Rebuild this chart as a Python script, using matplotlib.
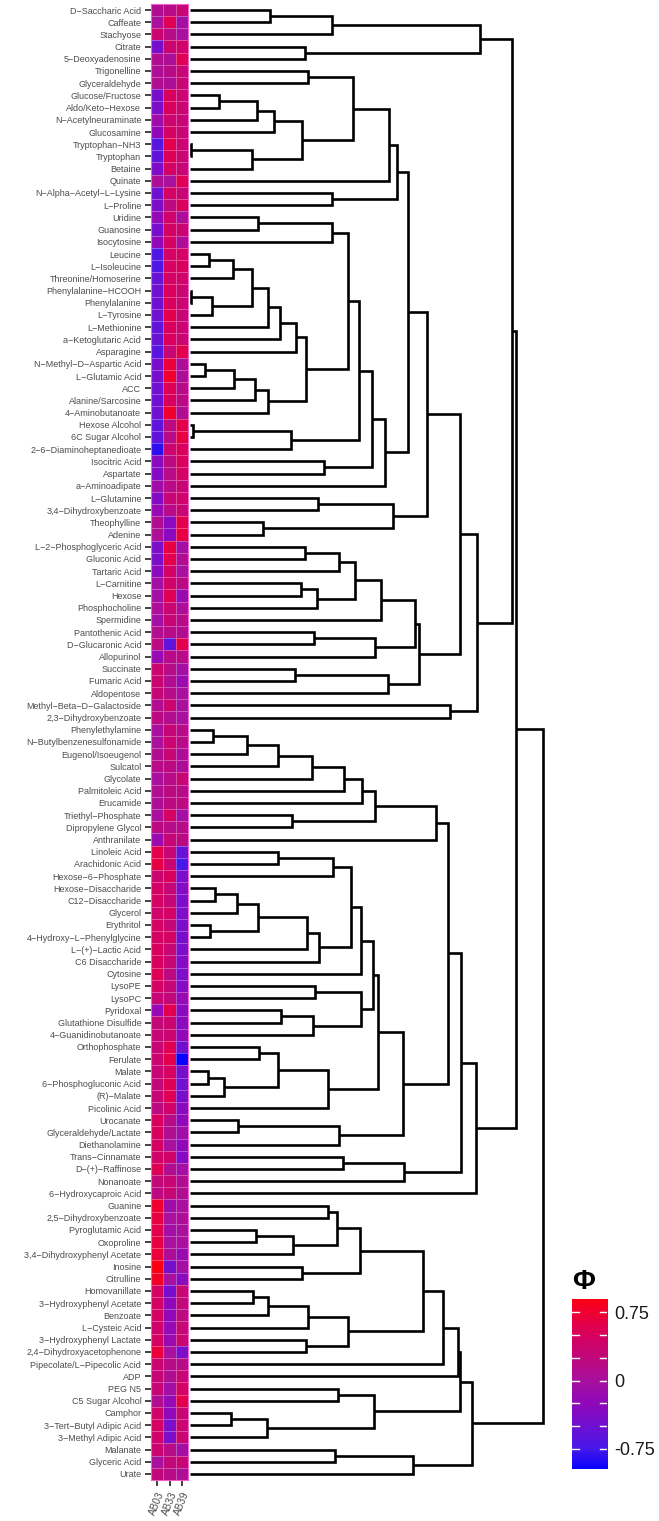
import numpy as np
import matplotlib
matplotlib.use("Agg")
import matplotlib.pyplot as plt
from matplotlib.colors import LinearSegmentedColormap, Normalize

plt.rcParams['font.family'] = ['Liberation Sans', 'DejaVu Sans']

metabolites = [
    "D-Saccharic Acid", "Caffeate", "Stachyose", "Citrate", "5-Deoxyadenosine",
    "Trigonelline", "Glyceraldehyde", "Glucose/Fructose", "Aldo/Keto-Hexose",
    "N-Acetylneuraminate", "Glucosamine", "Tryptophan-NH3", "Tryptophan", "Betaine",
    "Quinate", "N-Alpha-Acetyl-L-Lysine", "L-Proline", "Uridine", "Guanosine",
    "Isocytosine", "Leucine", "L-Isoleucine", "Threonine/Homoserine",
    "Phenylalanine-HCOOH", "Phenylalanine", "L-Tyrosine", "L-Methionine",
    "a-Ketoglutaric Acid", "Asparagine", "N-Methyl-D-Aspartic Acid", "L-Glutamic Acid",
    "ACC", "Alanine/Sarcosine", "4-Aminobutanoate", "Hexose Alcohol", "6C Sugar Alcohol",
    "2-6-Diaminoheptanedioate", "Isocitric Acid", "Aspartate", "a-Aminoadipate",
    "L-Glutamine", "3,4-Dihydroxybenzoate", "Theophylline", "Adenine",
    "L-2-Phosphoglyceric Acid", "Gluconic Acid", "Tartaric Acid", "L-Carnitine", "Hexose",
    "Phosphocholine", "Spermidine", "Pantothenic Acid", "D-Glucaronic Acid", "Allopurinol",
    "Succinate", "Fumaric Acid", "Aldopentose", "Methyl-Beta-D-Galactoside",
    "2,3-Dihydroxybenzoate", "Phenylethylamine", "N-Butylbenzenesulfonamide",
    "Eugenol/Isoeugenol", "Sulcatol", "Glycolate", "Palmitoleic Acid", "Erucamide",
    "Triethyl-Phosphate", "Dipropylene Glycol", "Anthranilate", "Linoleic Acid",
    "Arachidonic Acid", "Hexose-6-Phosphate", "Hexose-Disaccharide", "C12-Disaccharide",
    "Glycerol", "Erythritol", "4-Hydroxy-L-Phenylglycine", "L-(+)-Lactic Acid",
    "C6 Disaccharide", "Cytosine", "LysoPE", "LysoPC", "Pyridoxal", "Glutathione Disulfide",
    "4-Guanidinobutanoate", "Orthophosphate", "Ferulate", "Malate",
    "6-Phosphogluconic Acid", "(R)-Malate", "Picolinic Acid", "Urocanate",
    "Glyceraldehyde/Lactate", "Diethanolamine", "Trans-Cinnamate", "D-(+)-Raffinose",
    "Nonanoate", "6-Hydroxycaproic Acid", "Guanine", "2,5-Dihydroxybenzoate",
    "Pyroglutamic Acid", "Oxoproline", "3,4-Dihydroxyphenyl Acetate", "Inosine",
    "Citrulline", "Homovanillate", "3-Hydroxyphenyl Acetate", "Benzoate", "L-Cysteic Acid",
    "3-Hydroxyphenyl Lactate", "2,4-Dihydroxyacetophenone", "Pipecolate/L-Pipecolic Acid",
    "ADP", "PEG N5", "C5 Sugar Alcohol", "Camphor", "3-Tert-Butyl Adipic Acid",
    "3-Methyl Adipic Acid", "Malanate", "Glyceric Acid", "Urate",
]

samples = ["AB03", "AB33", "AB39"]

ab03 = [0.1, 0.0, 0.35, -0.45, 0.1, 0.05, 0.1, -0.45, -0.4, -0.1,
        -0.25, -0.65, -0.6, -0.4, 0.05, -0.5, -0.4, -0.2, -0.45, -0.25,
        -0.7, -0.7, -0.55, -0.5, -0.5, -0.5, -0.6, -0.55, -0.65, -0.45,
        -0.45, -0.5, -0.5, -0.5, -0.6, -0.6, -0.85, -0.3, -0.35, -0.1,
        -0.35, -0.2, 0.1, 0.05, -0.4, -0.4, -0.3, -0.05, -0.05, 0.05,
        -0.05, 0.1, 0.2, -0.2, 0.35, 0.35, 0.3, 0.1, 0.2, 0.0,
        0.0, 0.1, 0.15, 0.0, 0.1, 0.05, 0.0, 0.2, -0.15, 0.6,
        0.65, 0.35, 0.45, 0.45, 0.4, 0.45, 0.45, 0.5, 0.5, 0.55,
        0.45, 0.3, -0.2, 0.25, 0.3, 0.3, 0.35, 0.3, 0.25, 0.3,
        0.2, 0.5, 0.5, 0.45, 0.4, 0.55, 0.25, 0.2, 0.75, 0.65,
        0.6, 0.65, 0.7, 0.9, 0.8, 0.45, 0.45, 0.45, 0.4, 0.45,
        0.7, 0.35, 0.3, 0.3, 0.1, 0.4, 0.45, 0.4, 0.35, 0.0,
        0.25]
ab33 = [0.15, 0.55, 0.15, 0.35, 0.05, 0.15, 0.05, 0.5, 0.5, 0.35,
        0.45, 0.6, 0.55, 0.45, 0.0, 0.45, 0.2, 0.4, 0.45, 0.45,
        0.45, 0.45, 0.45, 0.5, 0.5, 0.6, 0.5, 0.5, 0.3, 0.7,
        0.75, 0.55, 0.5, 0.75, 0.2, 0.15, 0.35, 0.2, 0.15, 0.15,
        0.3, 0.15, -0.3, -0.3, 0.65, 0.6, 0.45, 0.4, 0.55, 0.35,
        0.3, 0.15, -0.6, 0.15, 0.15, 0.1, 0.15, 0.35, 0.1, 0.3,
        0.35, 0.3, 0.2, 0.15, 0.2, 0.2, 0.45, 0.15, 0.3, 0.3,
        0.35, 0.5, 0.3, 0.3, 0.45, 0.3, 0.45, 0.3, 0.3, 0.2,
        0.3, 0.25, 0.6, 0.35, 0.35, 0.55, 0.6, 0.45, 0.55, 0.55,
        0.4, 0.15, 0.1, 0.0, 0.4, 0.1, 0.3, 0.3, -0.1, 0.0,
        -0.05, 0.0, 0.05, -0.45, 0.0, -0.45, -0.25, -0.25, -0.2, -0.15,
        0.0, 0.15, 0.1, -0.05, -0.2, -0.25, -0.4, -0.4, 0.15, 0.25,
        0.15]
ab39 = [0.3, -0.05, 0.0, 0.4, 0.55, 0.3, 0.3, 0.35, 0.35, 0.3,
        0.3, 0.35, 0.35, 0.3, 0.55, 0.3, 0.5, 0.05, 0.35, 0.05,
        0.45, 0.5, 0.4, 0.35, 0.35, 0.3, 0.35, 0.35, 0.6, 0.05,
        0.05, 0.15, 0.2, 0.1, 0.6, 0.65, 0.5, 0.5, 0.45, 0.3,
        0.4, 0.3, 0.6, 0.65, -0.05, 0.1, 0.0, 0.2, -0.15, 0.05,
        0.15, 0.1, 0.6, 0.15, -0.05, -0.15, 0.0, 0.0, 0.0, 0.15,
        0.15, 0.05, 0.05, 0.3, 0.15, 0.2, -0.05, 0.15, 0.2, -0.55,
        -0.75, -0.4, -0.35, -0.4, -0.4, -0.4, -0.45, -0.4, -0.35, -0.4,
        -0.35, -0.2, -0.3, -0.3, -0.25, -0.5, -0.97, -0.45, -0.5, -0.45,
        -0.3, -0.25, -0.1, -0.25, -0.35, -0.05, 0.1, 0.1, 0.0, 0.05,
        0.0, 0.0, -0.15, -0.05, -0.3, 0.3, 0.25, 0.2, 0.3, 0.35,
        -0.4, 0.15, 0.3, 0.45, 0.6, 0.3, 0.35, 0.35, -0.05, 0.3,
        0.05]

# hierarchical clustering of the rows: (left, right, height)
# ints are leaf rows (1 = top row), "mK" is the K-th merge in this list
merges = [
    (1, 2, 0.80), ("m1", 3, 1.42), (4, 5, 1.15), ("m2", "m3", 2.90),
    (6, 7, 1.18), (8, 9, 0.29), ("m6", 10, 0.67), ("m7", 11, 0.84),
    (12, 13, 0.01), ("m9", 14, 0.62), ("m8", "m10", 1.12), ("m5", "m11", 1.63),
    ("m12", 15, 1.99), (16, 17, 1.42), ("m13", "m14", 2.07), (18, 19, 0.68),
    ("m16", 20, 1.42), (21, 22, 0.19), ("m18", 23, 0.43), (24, 25, 0.01),
    ("m20", 26, 0.22), ("m19", "m21", 0.62), ("m22", 27, 0.78), ("m23", 28, 0.90),
    ("m24", 29, 1.06), (30, 31, 0.15), ("m26", 32, 0.44), ("m27", 33, 0.65),
    ("m28", 34, 0.78), ("m25", "m29", 1.16), ("m17", "m30", 1.58), (35, 36, 0.03),
    ("m32", 37, 1.01), ("m31", "m33", 1.69), (38, 39, 1.34), ("m34", "m35", 1.82),
    ("m36", 40, 1.95), ("m15", "m37", 2.18), (41, 42, 1.28), (43, 44, 0.73),
    ("m39", "m40", 2.03), ("m38", "m41", 2.37), (45, 46, 1.15), ("m43", 47, 1.49),
    (48, 49, 1.11), ("m45", 50, 1.27), ("m44", "m46", 1.65), ("m47", 51, 1.91),
    (52, 53, 1.24), ("m49", 54, 1.85), ("m48", "m50", 2.25), (55, 56, 1.05),
    ("m52", 57, 1.98), ("m51", "m53", 2.29), ("m42", "m54", 2.70), (58, 59, 2.60),
    ("m55", "m56", 2.87), ("m4", "m57", 3.22), (60, 61, 0.23), ("m59", 62, 0.57),
    ("m60", 63, 0.88), ("m61", 64, 1.22), ("m62", 65, 1.54), ("m63", 66, 1.72),
    (67, 68, 1.02), ("m64", "m65", 1.85), ("m66", 69, 2.46), (70, 71, 0.88),
    ("m68", 72, 1.43), (73, 74, 0.25), ("m70", 75, 0.47), (76, 77, 0.20),
    ("m71", "m72", 0.68), ("m73", 78, 1.17), ("m74", 79, 1.29), ("m69", "m75", 1.61),
    ("m76", 80, 1.71), (81, 82, 1.25), (83, 84, 0.91), ("m79", 85, 1.23),
    ("m78", "m80", 1.71), ("m77", "m81", 1.83), (86, 87, 0.69), (88, 89, 0.18),
    ("m84", 90, 0.34), ("m83", "m85", 0.88), ("m86", 91, 1.38), ("m82", "m87", 1.88),
    (92, 93, 0.48), ("m89", 94, 1.49), ("m88", "m90", 2.13), ("m67", "m91", 2.58),
    (95, 96, 1.53), ("m93", 97, 2.14), ("m92", "m94", 2.71), ("m95", 98, 2.86),
    ("m58", "m96", 3.26), (99, 100, 1.38), (101, 102, 0.66), ("m99", 103, 1.03),
    ("m98", "m100", 1.47), (104, 105, 1.12), ("m101", "m102", 1.70), (106, 107, 0.63),
    ("m104", 108, 0.78), ("m105", 109, 1.18), (110, 111, 1.16), ("m106", "m107", 1.58),
    ("m103", "m108", 2.33), ("m109", 112, 2.53), ("m110", 113, 2.68), (114, 115, 1.48),
    (116, 117, 0.41), ("m113", 118, 0.77), ("m112", "m114", 1.84), ("m111", "m115", 2.70),
    (119, 120, 1.45), ("m117", 121, 2.23), ("m116", "m118", 2.82), ("m97", "m119", 3.53),
]

n = len(metabolites)
W, H = 659, 1521
fig = plt.figure(figsize=(W / 100, H / 100), dpi=100)

cmap = LinearSegmentedColormap.from_list("phi", [
    (0.0, "#0000FF"), (0.125, "#4818EA"), (0.25, "#7010D0"), (0.375, "#9008BA"),
    (0.5, "#A8109E"), (0.625, "#C0087A"), (0.75, "#D8005E"), (0.875, "#F00030"),
    (1.0, "#FF0000")])
norm = Normalize(vmin=-1, vmax=1)

top_px, row_px = 3.9, 12.2
bottom = 1 - (top_px + n * row_px) / H
height = n * row_px / H

# heatmap
ax_h = fig.add_axes([151 / W, bottom, 37 / W, height])
vals = np.column_stack([ab03, ab33, ab39])
ax_h.pcolormesh(np.arange(0.5, 4, 1), np.arange(0.5, n + 1, 1), vals, cmap=cmap, norm=norm,
                edgecolors=(1, 1, 1, 0.3), linewidth=0.5)
ax_h.set_xlim(0.5, 3.5)
ax_h.set_ylim(n + 0.5, 0.5)
ax_h.set_yticks(np.arange(1, n + 1))
ax_h.set_yticklabels([m.replace("-", "\u2212") for m in metabolites], fontsize=6.5, color="#4D4D4D")
ax_h.set_xticks([1, 2, 3])
ax_h.set_xticklabels(samples, rotation=68, ha="right", va="top", fontsize=7.2, color="#4D4D4D",
                     rotation_mode="anchor")
ax_h.tick_params(axis="both", length=4, width=1.3, color="#333333", pad=3)
for sp in ax_h.spines.values():
    sp.set_color("#F060C8")
    sp.set_linewidth(0.8)

# dendrogram
ax_d = fig.add_axes([190 / W, bottom, 370 / W, height])
node_y, node_h = {}, {}


def pos(key):
    if isinstance(key, int):
        return float(key), 0.0
    return node_y[key], node_h[key]


for k, (a, b, h) in enumerate(merges, start=1):
    ya, ha = pos(a)
    yb, hb = pos(b)
    ax_d.plot([ha, h, h, hb], [ya, ya, yb, yb], color="black", lw=1.9,
              solid_joinstyle="miter", solid_capstyle="butt", clip_on=False)
    node_y["m%d" % k] = (ya + yb) / 2
    node_h["m%d" % k] = h

ax_d.set_xlim(0, 3.7)
ax_d.set_ylim(n + 0.5, 0.5)
ax_d.axis("off")

# colour bar spanning the data range
vmin, vmax = vals.min(), vals.max()
unit_px = 91.0
cb_bottom = 1469
cb_h = (vmax - vmin) * unit_px
cax = fig.add_axes([572 / W, 1 - cb_bottom / H, 35 / W, cb_h / H])
grad = np.linspace(vmin, vmax, 300)[:, None]
cax.imshow(grad, aspect="auto", cmap=cmap, norm=norm, origin="lower",
           extent=[0, 1, vmin, vmax], interpolation="bilinear")
cax.set_xlim(0, 1)
cax.set_ylim(vmin, vmax)
cb_ticks = [-0.75, -0.5, -0.25, 0, 0.25, 0.5, 0.75]
cb_labels = ["-0.75", "", "", "0", "", "", "0.75"]
for t in cb_ticks:
    cax.plot([0, 0.2], [t, t], color="white", lw=1)
    cax.plot([0.8, 1], [t, t], color="white", lw=1)
cax.set_xticks([])
cax.yaxis.tick_right()
cax.set_yticks(cb_ticks)
cax.set_yticklabels(cb_labels)
cax.tick_params(axis="y", length=0, labelsize=13, labelcolor="#1A1A1A", pad=5.5)
for sp in cax.spines.values():
    sp.set_visible(False)
fig.text(572 / W, 1 - (cb_bottom - cb_h - 17) / H, "\u03a6", fontsize=20, fontweight="bold",
         ha="left", va="center")

fig.savefig("out.png", dpi=100)
